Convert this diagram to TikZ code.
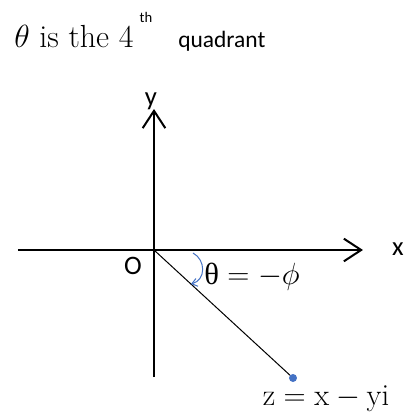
\RequirePackage{fix-cm}
\documentclass[tikz,border=0pt]{standalone}
\usepackage{fontspec}
\newfontfamily\calfont{Carlito}
\newfontfamily\grkfont{Liberation Serif}
\usetikzlibrary{arrows.meta}
\definecolor{ptblue}{RGB}{68,114,196}
\tikzset{
  axis/.style={line width=1.5pt,-{Straight Barb[length=13pt,width=17pt,line width=1.5pt]}},
  lbl/.style={inner sep=0pt,font=\calfont\fontsize{20}{24}\selectfont},
  mlbl/.style={inner sep=0pt,font=\fontsize{23}{27}\selectfont}
}
\begin{document}
\begin{tikzpicture}[x=0.75pt,y=-0.75pt]
\useasboundingbox (0,0) rectangle (405,412);
\node[inner sep=0pt,anchor=base west,font=\fontsize{24}{28}\selectfont] (title) at (14,47) {$\theta$ is the 4};
\node[inner sep=0pt,font=\calfont\fontsize{11}{13}\selectfont] (sup) at (146,17) {th};
\node[inner sep=0pt,anchor=base west,font=\calfont\fontsize{17.6}{21}\selectfont] (quad) at (178,47) {quadrant};

\coordinate (O) at (154,250);
\coordinate (xa) at (18,250);
\coordinate (xb) at (363,250);
\coordinate (ya) at (154,377);
\coordinate (yb) at (154,109);
\draw[axis] (xa) -- (xb);
\draw[axis] (ya) -- (yb);
\node[lbl] (xlab) at (398,249) {x};
\node[lbl] (ylab) at (151,101) {y};
\node[lbl] (olab) at (133,266) {O};

\coordinate (z) at (293,378);
\draw[line width=0.75pt] (O) -- (z);
\fill[ptblue] (z) circle (3pt);
\node[mlbl] (zlab) at (326,399) {$\mathrm{z = x - yi}$};

\coordinate (arca) at (193,253);
\coordinate (arcb) at (191,284);
\draw[ptblue,line width=0.75pt,-{Straight Barb[length=4pt,width=6pt]}] (arca) .. controls (206,260) and (206,280) .. (arcb);
\node[mlbl] (anglab) at (252,277) {$\mbox{\grkfont θ} = -\phi$};
\end{tikzpicture}
\end{document}
